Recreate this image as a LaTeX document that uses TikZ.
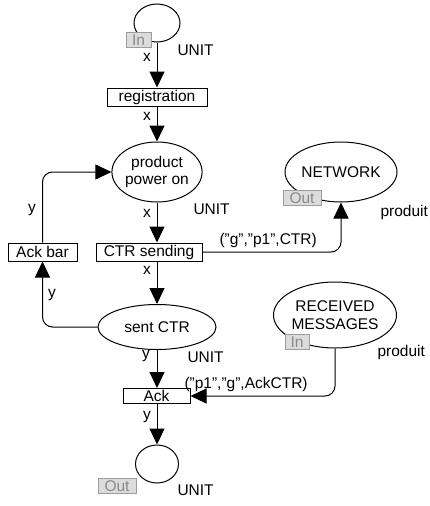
\documentclass[tikz,border=0pt]{standalone}
\usepackage{fontspec}
\setmainfont{Liberation Sans}
\usetikzlibrary{shapes.geometric,arrows.meta}
\definecolor{tagfill}{HTML}{DCDCDC}
\definecolor{tagline}{HTML}{9C9C9C}
\definecolor{tagtext}{HTML}{8A8A8A}
\newcommand{\q}{\symbol{34}}
\begin{document}
\begin{tikzpicture}[x=1pt,y=1pt,line width=1pt,
  font=\fontsize{15.5}{17.5}\selectfont,
  place/.style={draw,ellipse,inner sep=0pt,align=center},
  trans/.style={draw,rectangle,inner sep=0pt,minimum height=18pt},
  arc/.style={-{Triangle[length=16pt,width=15pt]},rounded corners=10pt},
  tag/.style={draw=tagline,fill=tagfill,text=tagtext,line width=0.8pt,inner sep=0pt,minimum height=15pt},
  lbl/.style={inner sep=0pt}]
\useasboundingbox (0,0) rectangle (430,-506);

% places
\node[place,minimum width=46pt,minimum height=38pt] (pin) at (157,-23) {};
\node[place,minimum width=88pt,minimum height=60pt] (ppo) at (157,-172) {product\\power on};
\node[place,minimum width=100pt,minimum height=60pt] (net) at (341,-172) {NETWORK};
\node[place,minimum width=118pt,minimum height=45pt] (sent) at (157,-327) {sent CTR};
\node[place,minimum width=96pt,minimum height=66pt] (recv) at (335,-315) {RECEIVED\\MESSAGES};
\node[place,minimum width=43pt,minimum height=38pt] (pout) at (157,-464) {};

% transitions
\node[trans,minimum width=100pt] (reg) at (157,-97) {registration};
\node[trans,minimum width=106pt] (ctr) at (149,-252) {CTR sending};
\node[trans,minimum width=69pt] (ackbar) at (42.5,-252) {Ack bar};
\node[trans,minimum width=67pt,minimum height=15pt] (ack) at (156.5,-396) {Ack};

% port tags
\node[tag,minimum width=25pt] (tin1) at (138.5,-40) {In};
\node[tag,minimum width=38pt] (tout1) at (302,-198) {Out};
\node[tag,minimum width=24pt] (tin2) at (297,-342) {In};
\node[tag,minimum width=38pt] (tout2) at (117,-486) {Out};

% colour sets
\node[lbl,anchor=west] (c1) at (177,-50) {UNIT};
\node[lbl,anchor=west] (c2) at (193,-209) {UNIT};
\node[lbl,anchor=west] (c3) at (380,-212) {produit};
\node[lbl,anchor=west] (c4) at (187,-357) {UNIT};
\node[lbl,anchor=west] (c5) at (377,-352) {produit};
\node[lbl,anchor=west] (c6) at (177,-490) {UNIT};

% arcs
\draw[arc] (pin.south) -- (pin.south |- reg.north);
\draw[arc] (reg.south) -- (reg.south |- ppo.north);
\draw[arc] (ppo.south) -- (ppo.south |- ctr.north);
\draw[arc] (ppo.south |- ctr.south) -- (sent.north);
\draw[arc] (sent.south) -- (sent.south |- ack.north);
\draw[arc] (sent.south |- ack.south) -- (pout.north);
\draw[arc] (ackbar.north) |- (ppo.west);
\draw[arc] (sent.west) -| (ackbar.south);
\draw[arc] (ctr.east) -| (net.south);
\draw[arc] (recv.south) |- (ack.east);

% arc inscriptions
\node[lbl] (a1) at (147,-57) {x};
\node[lbl] (a2) at (147,-116) {x};
\node[lbl] (a3) at (147,-213) {x};
\node[lbl] (a4) at (147,-270) {x};
\node[lbl] (a5) at (32,-210) {y};
\node[lbl] (a6) at (52,-295) {y};
\node[lbl] (a7) at (146,-356) {y};
\node[lbl] (a8) at (147,-417) {y};
\node[lbl,anchor=west] (a9) at (219,-240) {(\q g\q,\q p1\q,CTR)};
\node[lbl,anchor=west] (a10) at (184,-384) {(\q p1\q,\q g\q,AckCTR)};
\end{tikzpicture}
\end{document}
